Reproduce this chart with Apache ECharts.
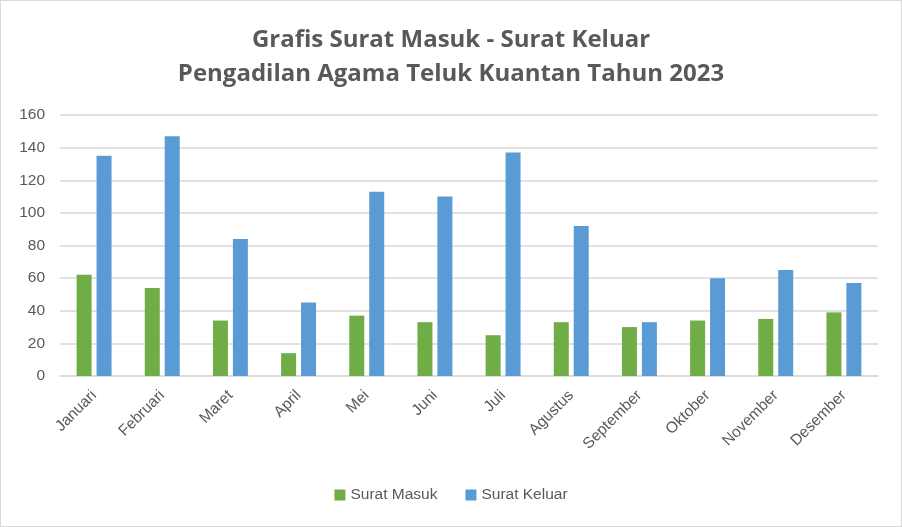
<!DOCTYPE html>
<html><head><meta charset="utf-8">
<script src="https://cdn.jsdelivr.net/npm/echarts@6/dist/echarts.min.js"></script>
<style>html,body{margin:0;padding:0;background:#fff}#c{width:902px;height:527px;box-sizing:border-box;border:1px solid #d9d9d9}</style>
</head><body><div id="c"></div>
<script>
const categories = ['Januari','Februari','Maret','April','Mei','Juni','Juli','Agustus','September','Oktober','November','Desember'];
const suratMasuk = [62,54,34,14,37,33,25,33,30,34,35,39];
const suratKeluar = [135,147,84,45,113,110,137,92,33,60,65,57];
const yTicks = {min:0, max:160, interval:20};
const titleLines = ['Grafis Surat Masuk - Surat Keluar','Pengadilan Agama Teluk Kuantan Tahun 2023'];
const font = 'Liberation Sans';
const chart = echarts.init(document.getElementById('c'), null, {renderer:'canvas'});
chart.setOption({
  animation:false,
  title:{text:titleLines.join('\n'), left:'center', top:17,
    textStyle:{fontFamily:'Open Sans', fontSize:24, fontWeight:'bold', color:'#595959', lineHeight:34}},
  legend:{bottom:18, left:'center', itemWidth:11, itemHeight:11, itemGap:28, icon:'rect',
    textStyle:{fontFamily:font, fontSize:15.5, color:'#595959'}},
  grid:{left:59, right:23, top:114, bottom:150, containLabel:false},
  xAxis:{type:'category', data:categories,
    axisLine:{lineStyle:{color:'#d9d9d9', width:1.5}}, axisTick:{show:false},
    axisLabel:{rotate:45, fontFamily:font, fontSize:15.5, color:'#595959', margin:17, interval:0}},
  yAxis:{type:'value', min:yTicks.min, max:yTicks.max, interval:yTicks.interval,
    axisLine:{show:false}, axisTick:{show:false},
    splitLine:{lineStyle:{color:'#d9d9d9', width:1.5}},
    axisLabel:{fontFamily:font, fontSize:15.5, color:'#595959', margin:15}},
  series:[
    {name:'Surat Masuk', type:'bar', data:suratMasuk, barWidth:15, barGap:'33%', itemStyle:{color:'#70ad47'}},
    {name:'Surat Keluar', type:'bar', data:suratKeluar, barWidth:15, itemStyle:{color:'#5b9bd5'}}
  ]
});
</script></body></html>
